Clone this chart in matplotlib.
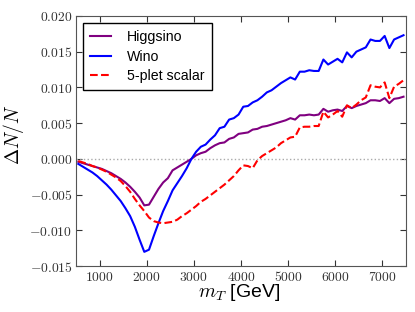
import numpy as np
import matplotlib
matplotlib.use('Agg')
import matplotlib.pyplot as plt
from matplotlib.ticker import FuncFormatter

# bin centres in GeV
mT = np.arange(550, 7451, 100)

higgsino = [-0.0004, -0.0006, -0.0008, -0.0010, -0.0012, -0.0014, -0.0017, -0.0020,
            -0.0024, -0.0028, -0.0033, -0.0039, -0.0046, -0.0054, -0.0065, -0.0064,
            -0.0053, -0.0042, -0.0033, -0.0027, -0.0016, -0.0012, -0.0008, -0.0004,
            0.0000, 0.0005, 0.0008, 0.0010, 0.0015, 0.0019, 0.0022, 0.0023,
            0.0028, 0.0030, 0.0035, 0.0036, 0.0037, 0.0041, 0.0042, 0.0045,
            0.0046, 0.0048, 0.0050, 0.0052, 0.0054, 0.0057, 0.0055, 0.0061,
            0.0061, 0.0062, 0.0061, 0.0062, 0.0070, 0.0066, 0.0068, 0.0069,
            0.0067, 0.0074, 0.0071, 0.0074, 0.0076, 0.0078, 0.0082, 0.0082,
            0.0081, 0.0085, 0.0078, 0.0084, 0.0085, 0.0087]

wino = [-0.0007, -0.0011, -0.0015, -0.0019, -0.0024, -0.0030, -0.0036, -0.0043,
        -0.0051, -0.0059, -0.0069, -0.0080, -0.0095, -0.0113, -0.0130, -0.0127,
        -0.0108, -0.0090, -0.0073, -0.0059, -0.0044, -0.0034, -0.0024, -0.0013,
        0.0000, 0.0010, 0.0017, 0.0020, 0.0027, 0.0033, 0.0043, 0.0045,
        0.0055, 0.0057, 0.0062, 0.0073, 0.0074, 0.0079, 0.0082, 0.0087,
        0.0093, 0.0096, 0.0101, 0.0106, 0.0110, 0.0114, 0.0111, 0.0122,
        0.0122, 0.0124, 0.0123, 0.0123, 0.0139, 0.0132, 0.0136, 0.0140,
        0.0135, 0.0149, 0.0142, 0.0150, 0.0153, 0.0156, 0.0167, 0.0165,
        0.0165, 0.0172, 0.0155, 0.0167, 0.0170, 0.0173]

fiveplet = [-0.0003, -0.0005, -0.0007, -0.0010, -0.0012, -0.0015, -0.0018, -0.0022,
            -0.0026, -0.0031, -0.0038, -0.0046, -0.0056, -0.0065, -0.0073, -0.0082,
            -0.0087, -0.0089, -0.0090, -0.0089, -0.0088, -0.0085, -0.0080, -0.0076,
            -0.0071, -0.0066, -0.0060, -0.0056, -0.0051, -0.0046, -0.0041, -0.0036,
            -0.0030, -0.0024, -0.0016, -0.0009, -0.0010, -0.0013, -0.0002, 0.0004,
            0.0008, 0.0012, 0.0016, 0.0022, 0.0026, 0.0030, 0.0031, 0.0044,
            0.0045, 0.0045, 0.0046, 0.0046, 0.0066, 0.0058, 0.0062, 0.0067,
            0.0059, 0.0075, 0.0071, 0.0076, 0.0082, 0.0086, 0.0103, 0.0101,
            0.0100, 0.0107, 0.0085, 0.0101, 0.0105, 0.0110]

plt.rcParams['mathtext.fontset'] = 'cm'
plt.rcParams['font.family'] = 'Liberation Sans'
plt.rcParams['xtick.direction'] = 'in'
plt.rcParams['ytick.direction'] = 'in'
plt.rcParams['xtick.top'] = True
plt.rcParams['ytick.right'] = True

fig = plt.figure(figsize=(4.15, 3.12), dpi=100)
ax = fig.add_axes([0.183, 0.147, 0.795, 0.802])

ax.axhline(0, color='#aaaaaa', linestyle=':', linewidth=1.0)
ax.plot(mT, higgsino, color='purple', linewidth=1.5, label='Higgsino')
ax.plot(mT, wino, color='b', linewidth=1.5, label='Wino')
ax.plot(mT, fiveplet, color='r', linestyle='--', linewidth=1.5, label='5-plet scalar')

ax.set_xlim(500, 7500)
ax.set_ylim(-0.015, 0.020)
ax.set_xticks(np.arange(1000, 7001, 1000))
ax.set_yticks(np.arange(-0.015, 0.0201, 0.005))
ax.xaxis.set_major_formatter(FuncFormatter(lambda v, p: r'$%d$' % v))
ax.yaxis.set_major_formatter(FuncFormatter(lambda v, p: r'$%.3f$' % (0 if abs(v) < 1e-9 else v)))
ax.tick_params(labelsize=9.8, length=4, width=0.8, pad=2.5, colors='#333333', labelcolor='#333333')
for s in ax.spines.values():
    s.set_color('#555555')

ax.set_xlabel(r'$m_T$ [GeV]', fontsize=14)
ax.set_ylabel(r'$\Delta N/N$', fontsize=14)
ax.xaxis.set_label_coords(0.494, -0.064)
ax.yaxis.set_label_coords(-0.152, 0.524)

leg = ax.legend(loc='upper left', fontsize=10.2, fancybox=False, framealpha=1,
                edgecolor='black', borderaxespad=0.5, borderpad=0.5,
                labelspacing=0.4, handlelength=1.5, handletextpad=1.1)
leg.get_frame().set_linewidth(1.0)

fig.savefig('out.png', dpi=100)
